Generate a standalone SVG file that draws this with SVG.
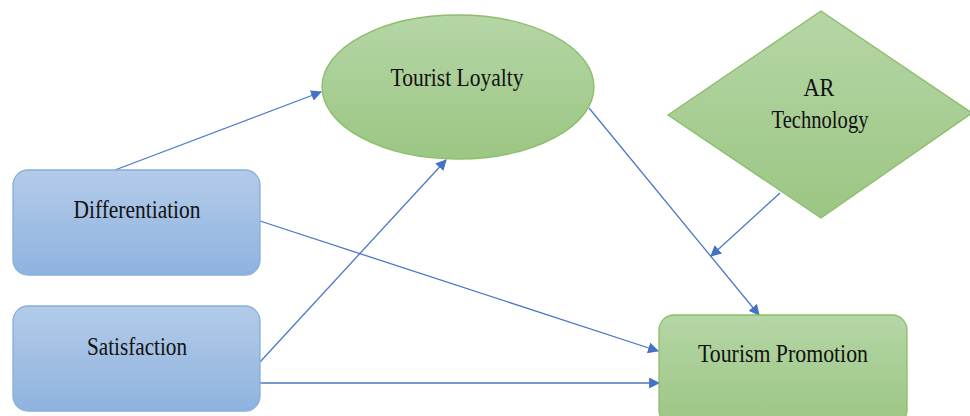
<svg xmlns="http://www.w3.org/2000/svg" width="970" height="416" viewBox="0 0 970 416">
<style>
.lbl{font-family:"Liberation Serif","Times New Roman",serif;font-size:25px;fill:#111;text-anchor:middle}
.blue{fill:url(#gb);stroke:#86aedb;stroke-width:1.3}
.green{fill:url(#gg);stroke:#8cbd6b;stroke-width:1.3}
.con{stroke:#4a78c8;stroke-width:1.3;fill:none;marker-end:url(#ah)}
</style>
<defs>
<linearGradient id="gb" x1="0" y1="0" x2="0" y2="1"><stop offset="0" stop-color="#b3cbe9"/><stop offset="1" stop-color="#8fb3df"/></linearGradient>
<linearGradient id="gg" x1="0" y1="0" x2="0" y2="1"><stop offset="0" stop-color="#b5d6a6"/><stop offset="1" stop-color="#9cc683"/></linearGradient>
<marker id="ah" viewBox="0 0 10 10" refX="9" refY="5" markerWidth="11" markerHeight="11" markerUnits="userSpaceOnUse" orient="auto"><path d="M0,0 L10,5 L0,10 z" fill="#4472c4"/></marker>
</defs>
<g id="connectors">
<line class="con" x1="115" y1="170" x2="321" y2="92"/>
<line class="con" x1="260" y1="362" x2="446" y2="160"/>
<line class="con" x1="260" y1="221" x2="658" y2="351"/>
<line class="con" x1="260" y1="383" x2="659" y2="383"/>
<line class="con" x1="589" y1="108" x2="759" y2="315"/>
<line class="con" x1="780" y1="193" x2="711" y2="256"/>
</g>
<g id="differentiation"><rect class="blue" x="13" y="170" width="247" height="105" rx="15"/><text class="lbl" x="137" y="218" textLength="127" lengthAdjust="spacingAndGlyphs">Differentiation</text></g>
<g id="satisfaction"><rect class="blue" x="13" y="306" width="247" height="105" rx="15"/><text class="lbl" x="137" y="355" textLength="100" lengthAdjust="spacingAndGlyphs">Satisfaction</text></g>
<g id="tourist-loyalty"><ellipse class="green" cx="458" cy="87" rx="136" ry="72"/><text class="lbl" x="457" y="86" textLength="133" lengthAdjust="spacingAndGlyphs">Tourist Loyalty</text></g>
<g id="ar-technology"><polygon class="green" points="821,11 972,113 821,218 668,115"/><text class="lbl" x="819" y="96" textLength="31" lengthAdjust="spacingAndGlyphs">AR</text><text class="lbl" x="820" y="128" textLength="97" lengthAdjust="spacingAndGlyphs">Technology</text></g>
<g id="tourism-promotion"><rect class="green" x="659" y="315" width="248" height="110" rx="15"/><text class="lbl" x="783" y="362" textLength="170" lengthAdjust="spacingAndGlyphs">Tourism Promotion</text></g>
</svg>
